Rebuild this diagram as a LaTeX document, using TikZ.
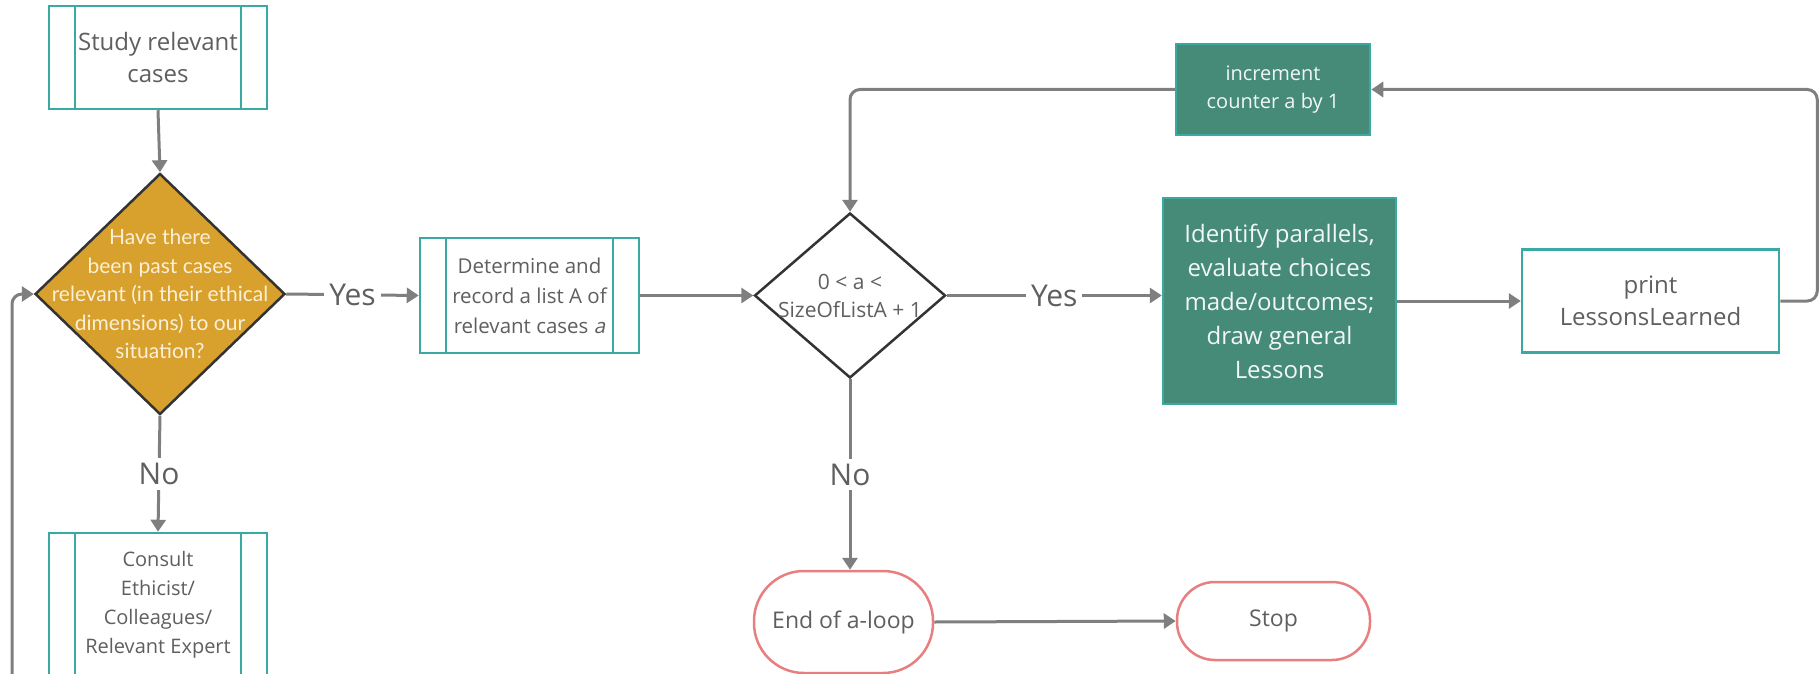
\documentclass[tikz,border=0pt]{standalone}
\usepackage{fontspec}
\setmainfont{Open Sans}
\newfontfamily\latofont{Lato}
\newfontfamily\obliquefont[FakeSlant=0.2]{Open Sans}
\usetikzlibrary{shapes.geometric,arrows.meta}

\definecolor{tealline}{HTML}{3AA9A3}
\definecolor{darkgreen}{HTML}{458B78}
\definecolor{goldfill}{HTML}{D8A02C}
\definecolor{creamtext}{HTML}{FBF0D6}
\definecolor{greytext}{HTML}{5F5F5F}
\definecolor{connc}{HTML}{7F7F7F}
\definecolor{termline}{HTML}{E87E7E}
\definecolor{diaborder}{HTML}{333333}
\definecolor{lighttext}{HTML}{F2F7F5}

\begin{document}
\begin{tikzpicture}[x=1pt,y=-1pt,
  conn/.style={draw=connc, line width=3pt, -{Triangle[length=12pt,width=15pt]}},
  lbl/.style={fill=white, text=greytext, inner sep=5pt, font=\fontsize{30}{36}\selectfont},
  subproc/.style={rectangle, draw=tealline, line width=2.5pt, fill=white,
    text=greytext, align=center, inner sep=0pt,
    path picture={\draw[tealline, line width=2.5pt]
      ([xshift=26pt]path picture bounding box.north west) -- ([xshift=26pt]path picture bounding box.south west)
      ([xshift=-26pt]path picture bounding box.north east) -- ([xshift=-26pt]path picture bounding box.south east);}},
  procbox/.style={rectangle, draw=tealline, line width=2.5pt, fill=white,
    text=greytext, align=center, inner sep=0pt},
  actbox/.style={rectangle, draw=tealline, line width=2.5pt, fill=darkgreen,
    text=lighttext, align=center, inner sep=0pt},
  termbox/.style={rectangle, draw=termline, line width=2.5pt, fill=white,
    text=greytext, align=center, inner sep=0pt},
  decision/.style={diamond, draw=diaborder, line width=2.5pt, inner sep=0pt}
]
\useasboundingbox (0,0) rectangle (1819,674);

% left column
\node[subproc, minimum width=218pt, minimum height=103pt,
      font=\fontsize{24}{32}\selectfont] (study) at (158,57.5) {Study relevant\\cases};
\node[decision, fill=goldfill, minimum width=250pt, minimum height=241pt,
      label={[text=creamtext, align=center, font=\latofont\fontsize{21}{28.5}\selectfont]center:{Have there\\been past cases\\relevant (in their ethical\\dimensions) to our\\situation?}}]
      (q1) at (160,294) {};
\node[subproc, minimum width=218pt, minimum height=144pt,
      font=\fontsize{20}{29}\selectfont] (consult) at (158,605)
      {Consult\\Ethicist/\\Colleagues/\\Relevant Expert};

% middle row
\node[subproc, minimum width=219pt, minimum height=115pt,
      font=\fontsize{20.5}{30}\selectfont] (det) at (529.5,295.5)
      {Determine and\\record a list A of\\relevant cases {\obliquefont a}};
\node[decision, fill=white, minimum width=191pt, minimum height=165pt,
      label={[text=greytext, align=center, font=\fontsize{21}{28}\selectfont]center:{0 < a <\\SizeOfListA + 1}}]
      (q2) at (850,295.5) {};
\node[actbox, minimum width=233pt, minimum height=206pt,
      font=\fontsize{24}{34}\selectfont] (ident) at (1279.5,301)
      {Identify parallels,\\evaluate choices\\made/outcomes;\\draw general\\Lessons};
\node[procbox, minimum width=257pt, minimum height=103pt,
      font=\fontsize{24}{32}\selectfont] (print) at (1650.5,301)
      {print\\LessonsLearned};
\node[actbox, minimum width=194pt, minimum height=91pt,
      font=\fontsize{20}{28}\selectfont] (inc) at (1273,89.5)
      {increment\\counter a by 1};

% terminals
\node[termbox, minimum width=179pt, minimum height=102pt, rounded corners=50pt,
      font=\fontsize{23}{30}\selectfont] (endloop) at (843.5,622) {End of a-loop};
\node[termbox, minimum width=193pt, minimum height=78pt, rounded corners=38pt,
      font=\fontsize{23}{30}\selectfont] (stop) at (1273.5,621) {Stop};

\coordinate (loopstart) at (12,690);

% connectors
\draw[conn] (study.south) -- (q1.north);
\draw[conn] (q1.east) -- node[lbl] {Yes} (det.west);
\draw[conn] (q1.south) -- node[lbl] {No} (consult.north);
\draw[conn] (det.east) -- (q2.west);
\draw[conn] (q2.east) -- node[lbl] {Yes} (q2.east -| ident.west);
\draw[conn] (ident.east) -- (print.west);
\draw[conn, rounded corners=10pt] (print.east) -- ++(37,0) |- (inc.east);
\draw[conn, rounded corners=10pt] (inc.west) -| (q2.north);
\draw[conn] (q2.south) -- node[lbl] {No} (q2.south |- endloop.north);
\draw[conn] (endloop.east) -- (stop.west);
\draw[conn, rounded corners=10pt] (loopstart) |- (q1.west);
\end{tikzpicture}
\end{document}
